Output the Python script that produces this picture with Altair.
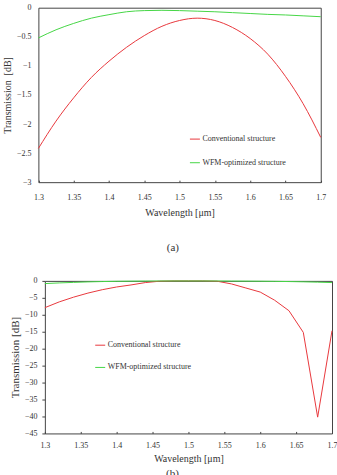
import altair as alt
import pandas as pd

FONT = "Liberation Serif"
AX = "#444444"
TXT = "#333333"

series = ["Conventional structure", "WFM-optimized structure"]
colors = ["#e8383d", "#46d646"]

xticks = [1.3, 1.35, 1.4, 1.45, 1.5, 1.55, 1.6, 1.65, 1.7]
yticks_a = [0, -0.5, -1, -1.5, -2, -2.5, -3]
yticks_b = [0, -5, -10, -15, -20, -25, -30, -35, -40, -45]

# panel (a)
wl_a = [1.300, 1.325, 1.350, 1.375, 1.400, 1.425, 1.450, 1.475, 1.500,
        1.525, 1.550, 1.575, 1.600, 1.625, 1.650, 1.675, 1.700]
conv_a = [-2.42, -1.95, -1.55, -1.20, -0.92, -0.68, -0.48, -0.32, -0.22,
          -0.18, -0.22, -0.34, -0.53, -0.80, -1.18, -1.65, -2.23]
wfm_a = [-0.52, -0.38, -0.27, -0.18, -0.12, -0.07, -0.05, -0.045, -0.05,
         -0.06, -0.07, -0.085, -0.10, -0.115, -0.125, -0.14, -0.155]

# panel (b)
wl_b = [1.30, 1.32, 1.34, 1.36, 1.38, 1.40, 1.42, 1.44, 1.46, 1.48, 1.50,
        1.52, 1.54, 1.56, 1.58, 1.60, 1.62, 1.64, 1.66, 1.68, 1.70]
conv_b = [-7.9, -6.2, -4.8, -3.6, -2.6, -1.8, -1.2, -0.5, -0.1, 0.0, 0.0,
          0.0, -0.1, -0.9, -2.1, -3.3, -5.7, -8.8, -15.2, -40.2, -14.7]
wfm_b = [-0.8, -0.6, -0.45, -0.3, -0.2, -0.12, -0.08, -0.05, -0.03, -0.02, -0.02,
         -0.02, -0.03, -0.05, -0.07, -0.1, -0.14, -0.2, -0.28, -0.38, -0.5]


def make_df(wl, conv, wfm):
    rows = []
    for w, v in zip(wl, conv):
        rows.append({"w": w, "t": v, "s": series[0], "k": 1})
    for w, v in zip(wl, wfm):
        rows.append({"w": w, "t": v, "s": series[1], "k": 0})
    return pd.DataFrame(rows)


df_a = make_df(wl_a, conv_a, wfm_a)
df_b = make_df(wl_b, conv_b, wfm_b)


def panel(df, width, height, xrange, ydom, yticks, yoffset, ytitle, ytitle_size,
          ytitle_x, yticks_on, ylabpad, xlabpad, xtitlepad, lx, ly, rowpad,
          caption, cap_offset, cap_dx, interp):
    xs = alt.Scale(domain=[1.3, 1.7], range=xrange, nice=False, zero=False)
    ys = alt.Scale(domain=ydom, nice=False, zero=False)
    main = alt.Chart(df).mark_line(strokeWidth=1, interpolate=interp).encode(
        x=alt.X("w:Q", scale=xs, axis=alt.Axis(
            orient="bottom", values=xticks, format=".2~f", labelFlush=False,
            labelOverlap=False, ticks=False, labelPadding=xlabpad,
            labelFont=FONT, labelFontSize=8, labelColor=TXT,
            title="Wavelength [μm]", titlePadding=xtitlepad, titleFontSize=10,
            titleFont=FONT, titleFontWeight="normal", titleColor=TXT,
            domainColor=AX, grid=False)),
        y=alt.Y("t:Q", scale=ys, axis=alt.Axis(
            orient="left", offset=yoffset, values=yticks, format="~g",
            labelOverlap=False, ticks=yticks_on, tickSize=3, tickColor=AX,
            labelPadding=ylabpad, labelFont=FONT, labelFontSize=8,
            labelColor=TXT, title=ytitle, titleFontSize=ytitle_size,
            titleFont=FONT, titleFontWeight="normal", titleColor=TXT,
            titleX=ytitle_x, titleBaseline="middle", domainColor=AX,
            grid=False)),
        color=alt.Color("s:N", scale=alt.Scale(domain=series, range=colors),
                        legend=alt.Legend(
                            orient="none", legendX=lx, legendY=ly, title=None,
                            symbolType="stroke", symbolSize=100,
                            symbolStrokeWidth=1, labelOffset=2,
                            rowPadding=rowpad, padding=0, labelFont=FONT,
                            labelFontSize=8, labelColor=TXT)),
        order=alt.Order("k:Q"),
    )
    border = alt.Chart(df).mark_line(strokeOpacity=0).encode(
        x=alt.X("w:Q", scale=xs, axis=alt.Axis(
            orient="top", labels=False, ticks=False, title=None,
            domainColor=AX, grid=False)),
        y=alt.Y("t:Q", scale=ys, axis=alt.Axis(
            orient="right", labels=False, ticks=False, title=None,
            domainColor=AX, grid=False)),
    )
    inticks = alt.Chart(df).mark_line(strokeOpacity=0).encode(
        x=alt.X("w:Q", scale=xs, axis=alt.Axis(
            orient="bottom", offset=-2, values=xticks, labels=False,
            domain=False, ticks=True, tickSize=2, tickColor=AX, title=None,
            grid=False)),
        y=alt.Y("t:Q", scale=ys, axis=None),
    )
    return alt.layer(main, border, inticks).resolve_axis(
        x="independent", y="independent"
    ).properties(
        width=width, height=height,
        title=alt.TitleParams(caption, orient="bottom", anchor="middle",
                              frame="group", offset=cap_offset, dx=cap_dx,
                              font=FONT, fontSize=11, fontWeight="normal",
                              color=TXT),
    )


chart_a = panel(df_a, 276.7, 175, [-6.5, 276.7], [-3, 0], yticks_a, 6.5,
                "Transmission\u00a0 [dB]", 10, -30.5, False, 7.5, 11, 6,
                145, 126.3, 13.7, "(a)", 25, -10, "monotone")
chart_b = panel(df_b, 288, 153, [0, 288], [-45, 0], yticks_b, 0,
                "Transmission [dB]", 11, -29, True, 5, 8.3, 4,
                50, 59, 12.3, "(b)", 4, -16, "linear")

chart = alt.vconcat(chart_a, chart_b, spacing=24).resolve_scale(
    color="independent"
).properties(
    padding={"left": 3, "top": 3, "right": 0, "bottom": 0}
).configure_view(strokeWidth=0).configure_axis(
    labelFont=FONT, titleFont=FONT, labelFontSize=8, labelColor=TXT,
    titleColor=TXT, titleFontWeight="normal", domainColor=AX, tickColor=AX,
    domainWidth=1, tickWidth=1
)

chart.save("out.html", embed_options={"renderer": "svg", "actions": False})
